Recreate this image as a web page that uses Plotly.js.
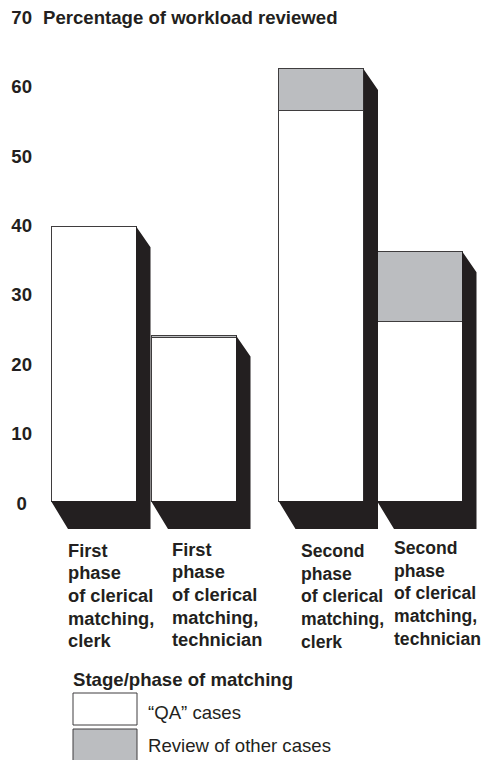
<!DOCTYPE html>
<html><head><meta charset="utf-8">
<script src="https://cdn.plot.ly/plotly-3.0.1.min.js"></script>
<style>html,body{margin:0;padding:0;background:#fff;overflow:hidden}</style>
</head><body><div id="chart" style="width:483px;height:760px"></div>
<script>
// ---- data ----
const categories = [
  ["First","phase","of clerical","matching,","clerk"],
  ["First","phase","of clerical","matching,","technician"],
  ["Second","phase","of clerical","matching,","clerk"],
  ["Second","phase","of clerical","matching,","technician"]
];
const qaCases = [39.6, 23.5, 56.3, 25.8];
const reviewCases = [0, 0.35, 5.95, 10.2];
const tickValues = [0,10,20,30,40,50,60,70];
const tickLabels = ["0\u00A0","10","20","30","40","50","60","70"];
const chartTitle = "Percentage of workload reviewed";
const legendTitle = "Stage/phase of matching";
const seriesNames = ["\u201CQA\u201D cases","Review of other cases"];

// ---- layout geometry ----
const W=483,H=760,ML=36;
const slots=[0,1,2.275,3.26];
const pxPerSlot=100, slot0Px=93.5, zeroPx=501, pxPerUnit=6.94;
const xRange=[(ML-slot0Px)/pxPerSlot,(W-slot0Px)/pxPerSlot];
const yRange=[(zeroPx-H)/pxPerUnit,zeroPx/pxPerUnit];
const barW=0.85;
const ink="#231f20", edge="#3f3d3e", grey="#bbbdc0";
const FONT="Liberation Sans, Arial, sans-serif";
const FS=18.6;
const px=p=>(p-ML)/(W-ML), py=p=>1-p/H;

// extruded dark side, derived from each bar's total
const shadowX=[],shadowY=[];
slots.forEach((s,i)=>{
  const top=qaCases[i]+reviewCases[i], l=s-barW/2, r=s+barW/2;
  const dx=14.5/pxPerSlot, bx=17/pxPerSlot, dyTop=21/pxPerUnit, dyBot=28/pxPerUnit;
  shadowX.push(l,l+bx,r+dx,r+dx,r,r,null);
  shadowY.push(0,-dyBot,-dyBot,top-dyTop,top,0,null);
});

const traces=[
 {type:"scatter",mode:"lines",x:shadowX,y:shadowY,fill:"toself",fillcolor:ink,line:{color:ink,width:0},hoverinfo:"skip",showlegend:false},
 {type:"bar",name:seriesNames[0],x:slots,y:qaCases,width:barW,marker:{color:"#ffffff",line:{color:edge,width:1}}},
 {type:"bar",name:seriesNames[1],x:slots,y:reviewCases,width:barW,marker:{color:grey,line:{color:edge,width:1}}}
];

const bold={family:FONT,size:FS,color:ink};
const plain={family:FONT,size:FS,color:ink};
const labelPos=[[66.5,550],[170.5,549],[299.5,551],[392.5,548]];
const labelSize=[18.3,18.3,17.6,17.6];
const lineGap=22.7;
const annotations=[];
categories.forEach((lines,i)=>lines.forEach((t,j)=>annotations.push({
  text:"<b>"+t+"</b>",xref:"paper",yref:"paper",x:px(labelPos[i][0]),y:py(labelPos[i][1]+j*lineGap),
  xanchor:"left",yanchor:"middle",showarrow:false,font:{family:FONT,size:labelSize[i],color:ink},borderpad:0
})));
annotations.push({text:"<b>"+legendTitle+"</b>",xref:"paper",yref:"paper",x:px(71.5),y:py(679),xanchor:"left",yanchor:"middle",showarrow:false,font:bold,borderpad:0});
annotations.push({text:seriesNames[0],xref:"paper",yref:"paper",x:px(147),y:py(712),xanchor:"left",yanchor:"middle",showarrow:false,font:plain,borderpad:0});
annotations.push({text:seriesNames[1],xref:"paper",yref:"paper",x:px(147),y:py(745),xanchor:"left",yanchor:"middle",showarrow:false,font:plain,borderpad:0});

const swatch=(y0,y1,c)=>({type:"rect",xref:"paper",yref:"paper",x0:px(73),x1:px(137),y0:py(y0),y1:py(y1),fillcolor:c,line:{color:edge,width:1},layer:"above"});

Plotly.newPlot("chart",traces,{
  width:W,height:H,margin:{l:ML,r:0,t:0,b:0},
  paper_bgcolor:"#fff",plot_bgcolor:"#fff",
  barmode:"stack",showlegend:false,
  title:{text:"<b>"+chartTitle+"</b>",x:43/W,xanchor:"left",y:1-17/H,yanchor:"middle",font:bold,pad:{l:0,r:0,t:0,b:0}},
  xaxis:{range:xRange,visible:false,fixedrange:true},
  yaxis:{range:yRange,tickmode:"array",tickvals:tickValues,ticktext:tickLabels,showgrid:false,zeroline:false,showline:false,ticks:"",
         tickfont:{family:FONT,size:FS,color:ink,weight:"bold"},ticklabelshift:2,ticklabelstandoff:3,fixedrange:true,automargin:false},
  annotations:annotations,
  shapes:[swatch(693,725,"#ffffff"),swatch(729,762,grey)]
},{displayModeBar:false,staticPlot:true});
</script></body></html>
